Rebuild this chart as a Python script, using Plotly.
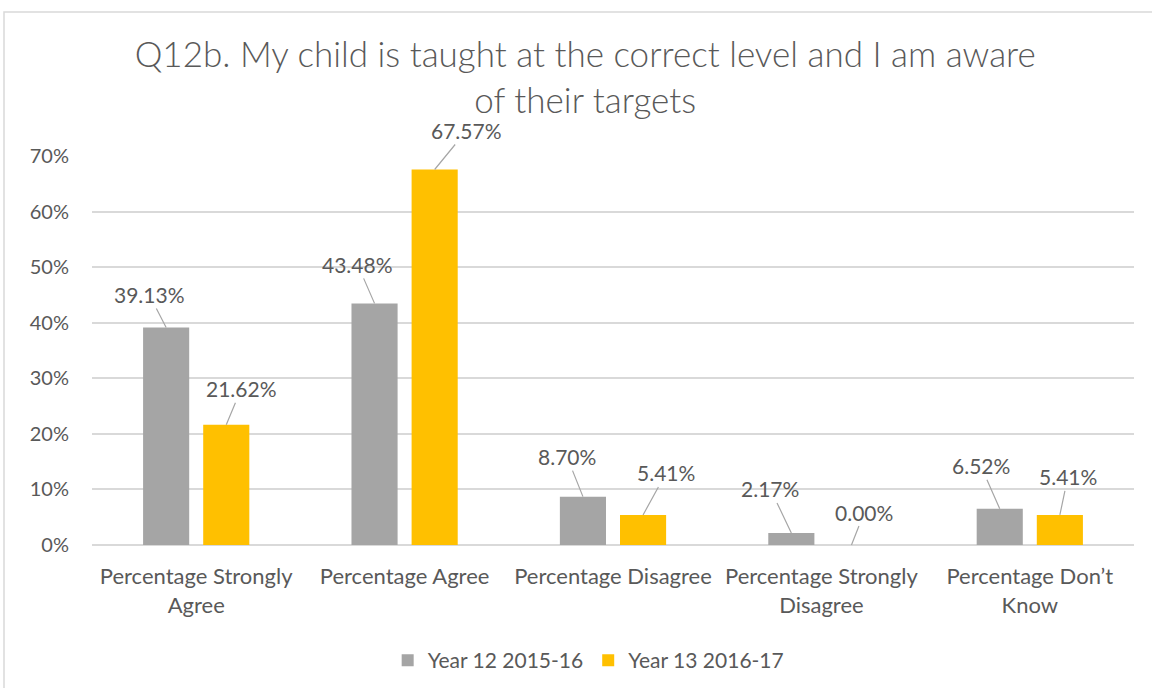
import plotly.graph_objects as go

# ─── Data ─────────────────────────────────────────────────────────────────────

CATEGORIES = [
    "Percentage Strongly<br>Agree",
    "Percentage Agree",
    "Percentage Disagree",
    "Percentage Strongly<br>Disagree",
    "Percentage Don’t<br>Know",
]
SERIES_NAMES = ["Year 12 2015-16", "Year 13 2016-17"]
YEAR12 = [0.3913, 0.4348, 0.0870, 0.0217, 0.0652]
YEAR13 = [0.2162, 0.6757, 0.0541, 0.0000, 0.0541]

Y_TICKS = [0, 0.1, 0.2, 0.3, 0.4, 0.5, 0.6, 0.7]

# label offsets (pixels) for the Excel-style leader-line data labels
LABEL_OFFSETS_12 = [(-17, -33), (-17, -39), (-16, -40), (-21, -44), (-19, -43)]
LABEL_OFFSETS_13 = [(15, -36), (32, -39), (23, -42), (13, -33), (8, -38)]

# ─── Style ────────────────────────────────────────────────────────────────────

COLORS = {
    "y12": "#A5A5A5",
    "y13": "#FFC000",
    "text": "#595959",
    "grid": "#D9D9D9",
    "border": "#D9D9D9",
}
FONT = "Lato, 'Open Sans', sans-serif"

W, H = 1152, 688
M_L, M_R, M_T, M_B = 92, 18, 156, 143
BARGAP = 0.423
GROUPGAP = 0.233

x_pos = list(range(len(CATEGORIES)))
slot = (1 - BARGAP) / 2
offsets = [-slot / 2, slot / 2]

fig = go.Figure()
for name, vals, color in [(SERIES_NAMES[0], YEAR12, COLORS["y12"]),
                          (SERIES_NAMES[1], YEAR13, COLORS["y13"])]:
    fig.add_trace(go.Bar(
        x=x_pos, y=vals, name=name,
        marker_color=color, marker_line_width=0,
        hoverinfo="skip",
    ))

# ── Data labels with leader lines
annotations = []
for vals, offs, dx in [(YEAR12, LABEL_OFFSETS_12, offsets[0]),
                       (YEAR13, LABEL_OFFSETS_13, offsets[1])]:
    for i, v in enumerate(vals):
        ax, ay = offs[i]
        annotations.append(dict(
            x=x_pos[i] + dx, y=v, xref="x", yref="y",
            text=f"{v * 100:.2f}%",
            showarrow=True, arrowhead=0, arrowwidth=1.2,
            arrowcolor="#A6A6A6", ax=ax, ay=ay, standoff=0,
            font=dict(family=FONT, size=21, color=COLORS["text"]),
        ))

fig.update_layout(
    width=W, height=H,
    margin=dict(l=M_L, r=M_R, t=M_T, b=M_B),
    paper_bgcolor="white",
    plot_bgcolor="white",
    barmode="group",
    bargap=BARGAP,
    bargroupgap=GROUPGAP,
    font=dict(family=FONT, color=COLORS["text"], size=20),
    title=dict(
        text="Q12b. My child is taught at the correct level and I am aware<br>of their targets",
        font=dict(family=FONT, size=35, color=COLORS["text"], weight=300),
        x=0.508, xanchor="center", xref="container",
        y=0.902, yanchor="top", yref="container",
    ),
    legend=dict(
        orientation="h",
        x=0.511, xanchor="center", xref="container",
        y=0.04, yanchor="middle", yref="container",
        font=dict(size=21, color=COLORS["text"]),
        itemwidth=30,
        traceorder="normal",
    ),
    annotations=annotations,
    showlegend=True,
)

fig.update_xaxes(
    tickvals=x_pos, ticktext=CATEGORIES,
    range=[-0.5, len(CATEGORIES) - 0.5],
    showgrid=False, zeroline=False,
    showline=False, ticks="",
    ticklabelstandoff=16,
    tickfont=dict(size=22, color=COLORS["text"]),
)
fig.update_yaxes(
    range=[0, 0.7], tickvals=Y_TICKS, tickformat=".0%",
    showgrid=True, gridcolor=COLORS["grid"], gridwidth=1.5,
    zeroline=True, zerolinecolor=COLORS["grid"], zerolinewidth=1.5,
    ticks="", ticklabelstandoff=22,
    tickfont=dict(size=20, color=COLORS["text"]),
)

# ── Outer border of the chart area
fig.add_shape(
    type="rect", xref="paper", yref="paper",
    x0=(4 - M_L) / (W - M_L - M_R), x1=(W + 8 - M_L) / (W - M_L - M_R),
    y0=(H - M_B - (H + 8)) / (H - M_T - M_B), y1=(H - M_B - 12) / (H - M_T - M_B),
    line=dict(color=COLORS["border"], width=1.5), layer="below",
)

fig.write_html(
    "out.html",
    config={"displayModeBar": False},
    post_script="document.body.style.margin='0';",
)
